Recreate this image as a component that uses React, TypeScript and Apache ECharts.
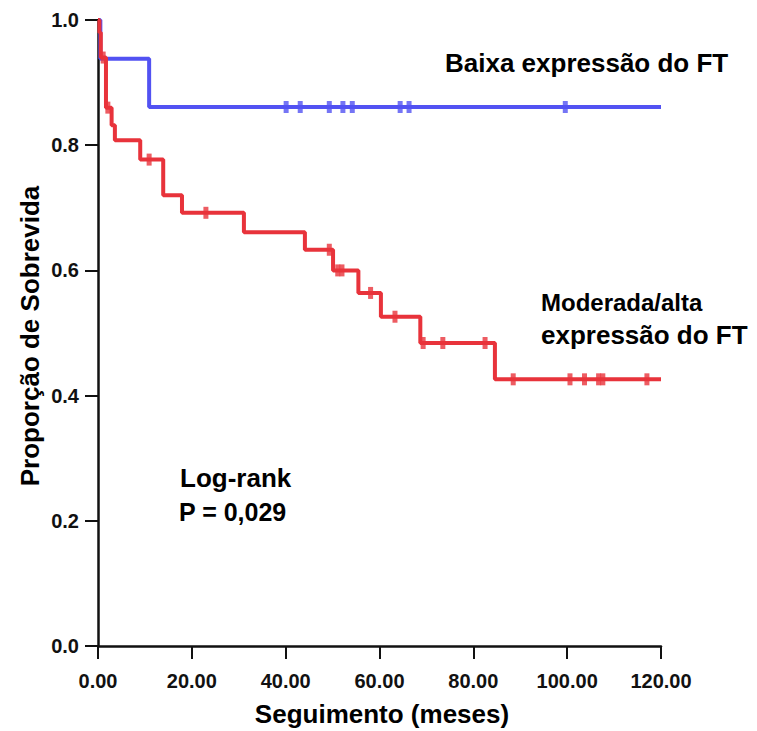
import React, { useEffect, useRef } from "react";
import * as echarts from "echarts";

// Kaplan-Meier steps: time of event (months) and survival after it
const blueTimes = [0, 0.5, 10.9, 120];
const blueSurv = [1.0, 0.938, 0.861, 0.861];
const blueCensor = [40.1, 43.1, 49.3, 52.2, 54.2, 64.4, 66.3, 99.6];

const redTimes = [0, 0.3, 0.6, 1.7, 2.9, 3.6, 9.0, 13.9, 17.9, 31.1, 44.1, 50.1, 55.5, 60.3, 68.7, 84.6, 120];
const redSurv = [1.0, 0.98, 0.94, 0.86, 0.832, 0.808, 0.777, 0.72, 0.692, 0.661, 0.633, 0.6, 0.564, 0.526, 0.484, 0.426, 0.426];
const redCensor = [1.1, 2.1, 10.9, 23.0, 49.3, 51.1, 52.0, 58.1, 63.3, 69.3, 73.5, 82.5, 88.5, 100.6, 103.7, 106.7, 107.6, 117.0];

const xTicks = { min: 0, max: 120, interval: 20 };
const yTicks = { min: 0, max: 1, interval: 0.2 };

const BLUE = "#5252f2";
const RED = "#e8333b";

function survAt(times: number[], surv: number[], t: number) {
  let s = surv[0];
  for (let i = 0; i < times.length; i++) {
    if (times[i] <= t) s = surv[i];
  }
  return s;
}

export default function App() {
  const ref = useRef<HTMLDivElement>(null);
  useEffect(() => {
    document.body.style.margin = "0";
    const chart = echarts.init(ref.current!, null, { renderer: "svg" });
    const tickFont = {
      fontFamily: "'Liberation Sans', Arial, sans-serif",
      fontWeight: "bold" as const,
      fontSize: 20,
      color: "#111",
    };
    const labelFont = "'Liberation Sans', Arial, Helvetica, sans-serif";
    chart.setOption({
      animation: false,
      backgroundColor: "#fff",
      grid: { left: 98, right: 96, top: 20, bottom: 85, containLabel: false },
      xAxis: {
        type: "value",
        min: xTicks.min,
        max: xTicks.max,
        interval: xTicks.interval,
        splitLine: { show: false },
        axisLine: { show: true, onZero: false, lineStyle: { color: "#111", width: 2.5 } },
        axisTick: { show: true, length: 13, lineStyle: { color: "#111", width: 2 } },
        axisLabel: { ...tickFont, margin: 25, formatter: (v: number) => v.toFixed(2) },
      },
      yAxis: {
        type: "value",
        min: yTicks.min,
        max: yTicks.max,
        interval: yTicks.interval,
        splitLine: { show: false },
        axisLine: { show: true, onZero: false, lineStyle: { color: "#111", width: 2.5 } },
        axisTick: { show: true, length: 13, lineStyle: { color: "#111", width: 2 } },
        axisLabel: { ...tickFont, margin: 19, formatter: (v: number) => v.toFixed(1) },
      },
      series: [
        {
          type: "line",
          step: "end",
          data: redTimes.map((t, i) => [t, redSurv[i]]),
          showSymbol: false,
          lineStyle: { color: RED, width: 4 },
          z: 3,
        },
        {
          type: "line",
          step: "end",
          data: blueTimes.map((t, i) => [t, blueSurv[i]]),
          showSymbol: false,
          lineStyle: { color: BLUE, width: 4 },
          z: 2,
        },
        {
          type: "scatter",
          data: redCensor.map((t) => [t, survAt(redTimes, redSurv, t)]),
          symbol: "rect",
          symbolSize: [5, 12],
          itemStyle: { color: RED },
          z: 4,
        },
        {
          type: "scatter",
          data: blueCensor.map((t) => [t, survAt(blueTimes, blueSurv, t)]),
          symbol: "rect",
          symbolSize: [5, 12],
          itemStyle: { color: BLUE },
          z: 4,
        },
      ],
      graphic: [
        {
          type: "text",
          x: 445,
          y: 63,
          style: { text: "Baixa expressão do FT", font: `bold 26px ${labelFont}`, fill: "#000", textVerticalAlign: "middle" },
        },
        {
          type: "text",
          x: 541,
          y: 302,
          style: { text: "Moderada/alta", font: `bold 24px ${labelFont}`, fill: "#000", textVerticalAlign: "middle" },
        },
        {
          type: "text",
          x: 541,
          y: 335,
          style: { text: "expressão do FT", font: `bold 26px ${labelFont}`, fill: "#000", textVerticalAlign: "middle" },
        },
        {
          type: "text",
          x: 180,
          y: 478,
          style: { text: "Log-rank", font: `bold 26px ${labelFont}`, fill: "#000", textVerticalAlign: "middle" },
        },
        {
          type: "text",
          x: 179,
          y: 512,
          style: { text: "P = 0,029", font: `bold 25px ${labelFont}`, fill: "#000", textVerticalAlign: "middle" },
        },
        {
          type: "text",
          x: 382,
          y: 714,
          style: {
            text: "Seguimento (meses)",
            font: `bold 26px ${labelFont}`,
            fill: "#000",
            textAlign: "center",
            textVerticalAlign: "middle",
          },
        },
        {
          type: "text",
          x: 30,
          y: 336,
          rotation: Math.PI / 2,
          style: {
            text: "Proporção de Sobrevida",
            font: `bold 26px ${labelFont}`,
            fill: "#000",
            textAlign: "center",
            textVerticalAlign: "middle",
          },
        },
      ],
    });
    return () => chart.dispose();
  }, []);
  return <div ref={ref} style={{ width: 757, height: 731 }} />;
}
